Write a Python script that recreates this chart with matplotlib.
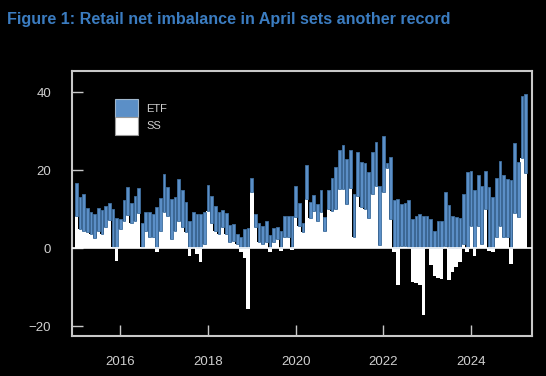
import numpy as np
import pandas as pd
import matplotlib
matplotlib.use("Agg")
import matplotlib.pyplot as plt
from matplotlib.patches import Patch

# monthly data, Jan 2015 .. Apr 2025
months = pd.date_range("2015-01-01", "2025-04-01", freq="MS")

ss = [8.2, 5.0, 4.5, 4.1, 3.7, 2.7, 4.5, 3.7, 5.5, 7.3, 0.3, -3.2,
      5.0, 7.0, 8.5, 6.6, 7.0, 9.0, 0.3, 4.5, 2.8, 3.0, -1.0, 4.5,
      9.2, 8.3, 2.4, 4.5, 7.1, 5.4, 4.1, -1.9, 0.3, -1.5, -3.6, 1.1,
      9.6, 6.6, 4.5, 3.6, 5.4, 3.6, 1.5, 1.9, 1.1, -1.0, -2.5, -15.6,
      14.3, 5.4, 1.5, 1.1, 1.5, -1.0, 1.5, 2.4, -0.8, 2.8, 3.0, -0.5,
      7.9, 5.8, 4.1, 12.6, 7.7, 9.6, 7.1, 9.2, 4.5, 10.0, 9.6, 10.0,
      15.1, 15.1, 11.3, 15.5, 3.0, 13.4, 10.5, 10.0, 7.7, 13.8, 16.0, 0.9,
      14.3, 20.5, 7.5, -1.0, -9.3, 0.5, 0.5, 0.3, -8.7, -9.0, -9.5, -17.1,
      0.3, -4.2, -7.0, -7.5, -7.8, 0.5, -8.1, -6.1, -4.8, -3.6, 1.0, -1.0,
      5.8, -1.9, 5.8, 1.0, 10.0, -0.8, -1.0, 3.0, 5.8, 2.8, 3.0, -4.0,
      9.0, 8.0, 23.2, 19.2]

etf = [8.6, 8.2, 9.5, 6.3, 5.5, 6.2, 5.7, 6.0, 5.3, 4.2, 9.7, 7.8,
       2.5, 5.4, 7.3, 5.0, 6.3, 6.5, 6.2, 4.7, 6.4, 5.8, 10.6, 8.5,
       9.8, 7.4, 10.2, 8.7, 10.6, 9.5, 7.8, 6.9, 8.9, 8.8, 8.8, 8.1,
       6.6, 6.8, 6.4, 5.6, 4.4, 5.4, 4.5, 4.3, 2.6, 3.0, 4.9, 5.3,
       3.6, 3.4, 4.9, 4.7, 5.6, 3.5, 3.8, 3.1, 4.5, 5.5, 5.3, 8.3,
       8.1, 5.7, 2.5, 8.7, 4.1, 4.1, 4.2, 5.7, 3.5, 4.9, 8.3, 10.8,
       10.2, 11.3, 11.7, 9.6, 11.0, 11.3, 11.7, 11.9, 11.9, 10.9, 11.3, 15.1,
       14.5, 1.4, 15.9, 12.3, 12.7, 10.8, 11.0, 12.0, 7.5, 8.3, 8.9, 8.3,
       8.0, 7.5, 4.5, 6.9, 6.9, 13.9, 11.1, 8.3, 7.9, 7.7, 13.0, 19.5,
       14.0, 15.0, 13.0, 15.0, 9.8, 15.7, 13.2, 14.9, 16.5, 16.1, 14.7, 17.4,
       18.0, 14.0, 15.7, 20.3]

year_ticks = [2016, 2018, 2020, 2022, 2024]
y_ticks = [-20, 0, 20, 40]

x = months.year + (months.month - 1) / 12.0
ss = np.array(ss)
etf = np.array(etf)
base = np.clip(ss, 0, None)

grey = "#cfcfcf"
blue = "#5b8fc7"
fonts = ["Liberation Sans", "DejaVu Sans"]

fig = plt.figure(figsize=(5.46, 3.76), dpi=100, facecolor="black")
ax = fig.add_axes([0.132, 0.106, 0.842, 0.705], facecolor="black")

ax.bar(x, ss, width=1 / 12.0, color="white", linewidth=0, zorder=2)
ax.bar(x, etf, bottom=base, width=0.74 / 12.0, color=blue,
       edgecolor="#3f6f9f", linewidth=0.6, zorder=3)
ax.axhline(0, color="white", lw=1.2, zorder=4)

ax.set_xlim(2014.9, 2025.39)
ax.set_ylim(-22.5, 45.4)
ax.set_xticks(year_ticks)
ax.set_xticklabels([str(y) for y in year_ticks])
ax.set_yticks(y_ticks)

for s in ax.spines.values():
    s.set_color("#c8c8c8")
    s.set_linewidth(1.5)

ax.tick_params(axis="both", direction="in", length=8, width=1,
               color="#c8c8c8", labelcolor=grey, labelsize=9.5)
ax.tick_params(axis="x", pad=14)
ax.tick_params(axis="y", pad=15)
for lab in ax.get_xticklabels() + ax.get_yticklabels():
    lab.set_family(fonts)

handles = [Patch(facecolor=blue, edgecolor="#9fb6cc", linewidth=0.8),
           Patch(facecolor="white", edgecolor="#9a9a9a", linewidth=0.8)]
leg = ax.legend(handles, ["ETF", "SS"], loc="upper left",
                bbox_to_anchor=(0.0935, 0.894), frameon=False,
                fontsize=8, handlelength=2.1, handleheight=2.1,
                labelspacing=0.0, handletextpad=0.7, borderpad=0,
                borderaxespad=0)
for t in leg.get_texts():
    t.set_color(grey)
    t.set_family(fonts)

fig.text(0.013, 0.948, "Figure 1: Retail net imbalance in April sets another record",
         color="#3b7cc0", fontsize=11.6, fontweight="bold", va="center", ha="left",
         family=fonts)

fig.savefig("out.png", dpi=100, facecolor="black")
